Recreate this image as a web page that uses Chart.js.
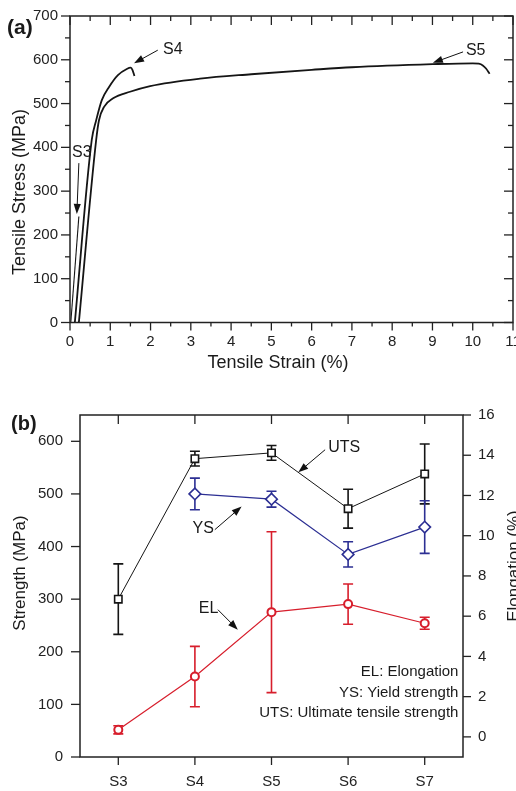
<!DOCTYPE html>
<html lang="en">
<head>
<meta charset="UTF-8" />
<title>Tensile properties</title>
<script src="https://cdn.jsdelivr.net/npm/chart.js"></script>
<style>
  body { margin: 0; background: #fff; }
  canvas { display: block; }
</style>
</head>
<body>
<canvas id="chartCurves" width="516" height="385"></canvas>
<canvas id="chartProps" width="516" height="406"></canvas>
<script>
// ---- (a) stress-strain curves, strain in %, stress in MPa ----
const strainTicks = [0, 1, 2, 3, 4, 5, 6, 7, 8, 9, 10, 11];
const strainMinor = [0.5, 1.5, 2.5, 3.5, 4.5, 5.5, 6.5, 7.5, 8.5, 9.5, 10.5];
const stressTicks = [0, 100, 200, 300, 400, 500, 600, 700];
const stressMinor = [50, 150, 250, 350, 450, 550, 650];

const s3Strain = [0.02, 0.22];
const s3Stress = [0, 242];
const s4Strain = [0.12, 0.54, 0.65, 0.79, 0.97, 1.19, 1.41, 1.51, 1.55, 1.60];
const s4Stress = [0, 417, 462, 508, 538, 565, 579, 582, 577, 563];
const s5Strain = [0.22, 0.65, 0.72, 0.85, 1.07, 1.49, 1.99, 3.23, 4.50, 6.00, 7.00, 9.00, 10.00, 10.15, 10.25, 10.33, 10.42];
const s5Stress = [0, 417, 462, 493, 512, 527, 540, 557, 567, 577, 583, 590, 592, 591, 587, 580, 568];

// ---- (b) properties per sample ----
const samples = ['S3', 'S4', 'S5', 'S6', 'S7'];
const utsMean = [300, 567, 578, 472, 538];
const utsErr  = [67, 14, 14, 37, 57];
const ysMean  = [null, 500, 490, 385, 437];
const ysErr   = [null, 30, 15, 24, 50];
const elMean  = [0.35, 3.0, 6.2, 6.6, 5.65];
const elErr   = [0.2, 1.5, 4.0, 1.0, 0.3];
const strengthTicks = [0, 100, 200, 300, 400, 500, 600];
const elongTicks = [0, 2, 4, 6, 8, 10, 12, 14, 16];

const BLACK = '#151515';
const BLUE = '#2c2f93';
const RED = '#d71e2c';
const FONT = '"Liberation Sans", Arial, sans-serif';

Chart.defaults.font.family = FONT;
Chart.defaults.color = '#222';

const toPoints = (xs, ys) => xs.map((x, i) => ({ x: x, y: ys[i] }));
const noGrid = { display: false, drawTicks: false };

// frame, tick marks, error bars, labels and arrows
function makeDecor(cfg) {
  return {
    id: 'decor',
    beforeDatasetsDraw(chart) {
      const ctx = chart.ctx;
      chart.data.datasets.forEach(ds => {
        if (!ds.errors) return;
        const xs = chart.scales.x;
        const ys = chart.scales[ds.yAxisID || 'y'];
        ctx.save();
        ctx.strokeStyle = ds.borderColor;
        ctx.lineWidth = 1.6;
        ds.data.forEach((v, j) => {
          if (v == null || ds.errors[j] == null) return;
          const px = xs.getPixelForValue(j);
          const top = ys.getPixelForValue(v + ds.errors[j]);
          const bot = ys.getPixelForValue(v - ds.errors[j]);
          ctx.beginPath();
          ctx.moveTo(px, top); ctx.lineTo(px, bot);
          ctx.moveTo(px - 5, top); ctx.lineTo(px + 5, top);
          ctx.moveTo(px - 5, bot); ctx.lineTo(px + 5, bot);
          ctx.stroke();
        });
        ctx.restore();
      });
    },
    afterDraw(chart) {
      const ctx = chart.ctx;
      const a = chart.chartArea;
      ctx.save();
      ctx.strokeStyle = '#222';
      ctx.lineWidth = 1.5;
      ctx.strokeRect(a.left, a.top, a.right - a.left, a.bottom - a.top);

      // tick marks
      ctx.lineWidth = 1.3;
      cfg.ticks.forEach(t => {
        const s = chart.scales[t.scale];
        t.values.forEach(v => {
          const p = s.getPixelForValue(v);
          const d = t.inward ? -t.len : t.len;
          ctx.beginPath();
          if (t.edge === 'bottom') { ctx.moveTo(p, a.bottom); ctx.lineTo(p, a.bottom + d); }
          if (t.edge === 'top')    { ctx.moveTo(p, a.top);    ctx.lineTo(p, a.top - d); }
          if (t.edge === 'left')   { ctx.moveTo(a.left, p);   ctx.lineTo(a.left - d, p); }
          if (t.edge === 'right')  { ctx.moveTo(a.right, p);  ctx.lineTo(a.right + d, p); }
          ctx.stroke();
        });
      });

      const pos = (o, xk, yk) => o.px ? [o[xk], o[yk]] :
        [chart.scales[o.xs || 'x'].getPixelForValue(o[xk]), chart.scales[o.ys || 'y'].getPixelForValue(o[yk])];

      // arrows with filled heads
      ctx.strokeStyle = '#111';
      ctx.fillStyle = '#111';
      ctx.lineWidth = 1;
      cfg.arrows.forEach(ar => {
        const [x1, y1] = pos(ar, 'x1', 'y1');
        const [x2, y2] = pos(ar, 'x2', 'y2');
        const ang = Math.atan2(y2 - y1, x2 - x1);
        const hl = 10, hw = 3.6;
        ctx.beginPath();
        ctx.moveTo(x1, y1);
        ctx.lineTo(x2 - Math.cos(ang) * hl * 0.8, y2 - Math.sin(ang) * hl * 0.8);
        ctx.stroke();
        ctx.beginPath();
        ctx.moveTo(x2, y2);
        ctx.lineTo(x2 - Math.cos(ang) * hl - Math.sin(ang) * hw, y2 - Math.sin(ang) * hl + Math.cos(ang) * hw);
        ctx.lineTo(x2 - Math.cos(ang) * hl + Math.sin(ang) * hw, y2 - Math.sin(ang) * hl - Math.cos(ang) * hw);
        ctx.closePath();
        ctx.fill();
      });

      // text labels
      ctx.fillStyle = '#1a1a1a';
      cfg.texts.forEach(tx => {
        const [x, y] = pos(tx, 'x', 'y');
        ctx.save();
        ctx.font = tx.font;
        ctx.textAlign = tx.align || 'left';
        ctx.textBaseline = 'middle';
        ctx.translate(x, y);
        if (tx.rotate) ctx.rotate(-Math.PI / 2);
        ctx.fillText(tx.text, 0, 0);
        ctx.restore();
      });
      ctx.restore();
    }
  };
}

// ---------- (a) ----------
const curveLine = { pointRadius: 0, cubicInterpolationMode: 'monotone', borderColor: BLACK, fill: false };

new Chart(document.getElementById('chartCurves'), {
  type: 'line',
  data: {
    datasets: [
      Object.assign({ label: 'S3', data: toPoints(s3Strain, s3Stress), borderWidth: 1.1 }, curveLine),
      Object.assign({ label: 'S4', data: toPoints(s4Strain, s4Stress), borderWidth: 1.8 }, curveLine),
      Object.assign({ label: 'S5', data: toPoints(s5Strain, s5Stress), borderWidth: 1.8 }, curveLine)
    ]
  },
  options: {
    responsive: false,
    animation: false,
    events: [],
    layout: { padding: { top: 16, right: 3, left: 0, bottom: 0 } },
    plugins: { legend: { display: false }, tooltip: { enabled: false } },
    scales: {
      x: {
        type: 'linear', min: 0, max: 11,
        grid: noGrid, border: { display: false },
        ticks: { stepSize: 1, padding: 10, maxRotation: 0, autoSkip: false, font: { size: 15 } },
        afterFit(s) { s.height = 62.5; s.paddingLeft = 0; s.paddingRight = 0; }
      },
      y: {
        min: 0, max: 700,
        grid: noGrid, border: { display: false },
        ticks: { stepSize: 100, padding: 12, font: { size: 15 } },
        afterFit(s) { s.width = 70; s.paddingTop = 0; s.paddingBottom = 0; }
      }
    }
  },
  plugins: [makeDecor({
    ticks: [
      { scale: 'x', edge: 'bottom', values: strainTicks, len: 8 },
      { scale: 'x', edge: 'bottom', values: strainMinor, len: 4 },
      { scale: 'x', edge: 'top', values: strainTicks, len: 9, inward: true },
      { scale: 'x', edge: 'top', values: strainMinor, len: 5, inward: true },
      { scale: 'y', edge: 'left', values: stressTicks, len: 9 },
      { scale: 'y', edge: 'left', values: stressMinor, len: 5 },
      { scale: 'y', edge: 'right', values: stressTicks, len: 9, inward: true },
      { scale: 'y', edge: 'right', values: stressMinor, len: 5, inward: true }
    ],
    arrows: [
      { x1: 2.18, y1: 622, x2: 1.59, y2: 592 },
      { x1: 9.76, y1: 618, x2: 9.01, y2: 593 },
      { x1: 0.22, y1: 364, x2: 0.17, y2: 248 }
    ],
    texts: [
      { px: true, x: 7, y: 28, text: '(a)', font: 'bold 21px ' + FONT },
      { x: 2.31, y: 624, text: 'S4', font: '16px ' + FONT },
      { x: 9.83, y: 622, text: 'S5', font: '16px ' + FONT },
      { x: 0.05, y: 388, text: 'S3', font: '16px ' + FONT },
      { px: true, x: 20, y: 192, text: 'Tensile Stress (MPa)', font: '18px ' + FONT, align: 'center', rotate: true },
      { px: true, x: 278, y: 363, text: 'Tensile Strain (%)', font: '18px ' + FONT, align: 'center' }
    ]
  })]
});

// ---------- (b) ----------
new Chart(document.getElementById('chartProps'), {
  type: 'line',
  data: {
    labels: samples,
    datasets: [
      {
        label: 'UTS', data: utsMean, errors: utsErr, yAxisID: 'y',
        borderColor: BLACK, borderWidth: 1, pointStyle: 'rect', pointRadius: 5.2,
        pointBorderWidth: 1.6, pointBackgroundColor: '#fff', pointBorderColor: BLACK
      },
      {
        label: 'YS', data: ysMean, errors: ysErr, yAxisID: 'y',
        borderColor: BLUE, borderWidth: 1.2, pointStyle: 'rectRot', pointRadius: 5.8,
        pointBorderWidth: 1.6, pointBackgroundColor: '#fff', pointBorderColor: BLUE
      },
      {
        label: 'EL', data: elMean, errors: elErr, yAxisID: 'y2',
        borderColor: RED, borderWidth: 1.2, pointStyle: 'circle', pointRadius: 4,
        pointBorderWidth: 2, pointBackgroundColor: '#fff', pointBorderColor: RED
      }
    ]
  },
  options: {
    responsive: false,
    animation: false,
    events: [],
    layout: { padding: { top: 30, right: 0, left: 0, bottom: 0 } },
    plugins: { legend: { display: false }, tooltip: { enabled: false } },
    scales: {
      x: {
        offset: true,
        grid: noGrid, border: { display: false },
        ticks: { padding: 16, maxRotation: 0, font: { size: 15 } },
        afterFit(s) { s.height = 34; s.paddingLeft = 0; s.paddingRight = 0; }
      },
      y: {
        position: 'left', min: 0, max: 650,
        grid: noGrid, border: { display: false },
        ticks: { stepSize: 100, includeBounds: false, padding: 17, font: { size: 15 } },
        afterFit(s) { s.width = 80; s.paddingTop = 0; s.paddingBottom = 0; }
      },
      y2: {
        position: 'right', min: -1, max: 16,
        grid: noGrid, border: { display: false },
        ticks: { stepSize: 2, includeBounds: false, padding: 15, font: { size: 15 } },
        afterFit(s) { s.width = 53; s.paddingTop = 0; s.paddingBottom = 0; }
      }
    }
  },
  plugins: [makeDecor({
    ticks: [
      { scale: 'x', edge: 'bottom', values: [0, 1, 2, 3, 4], len: 8 },
      { scale: 'x', edge: 'top', values: [0, 1, 2, 3, 4], len: 9, inward: true },
      { scale: 'y', edge: 'left', values: strengthTicks, len: 9 },
      { scale: 'y2', edge: 'right', values: elongTicks, len: 8 }
    ],
    arrows: [
      { x1: 2.70, y1: 584, x2: 2.35, y2: 541 },
      { x1: 1.26, y1: 432, x2: 1.61, y2: 476 },
      { x1: 1.30, y1: 280, x2: 1.56, y2: 242 }
    ],
    texts: [
      { px: true, x: 11, y: 39, text: '(b)', font: 'bold 20px ' + FONT },
      { x: 2.74, y: 588, text: 'UTS', font: '16px ' + FONT },
      { x: 0.97, y: 435, text: 'YS', font: '16px ' + FONT },
      { x: 1.05, y: 282, text: 'EL', font: '16px ' + FONT },
      { x: 4.44, y: 162.5, text: 'EL: Elongation', font: '15px ' + FONT, align: 'right' },
      { x: 4.44, y: 122.6, text: 'YS: Yield strength', font: '15px ' + FONT, align: 'right' },
      { x: 4.44, y: 84.6, text: 'UTS: Ultimate tensile strength', font: '15px ' + FONT, align: 'right' },
      { px: true, x: 20, y: 188, text: 'Strength (MPa)', font: '17px ' + FONT, align: 'center', rotate: true },
      { px: true, x: 514, y: 181, text: 'Elongation (%)', font: '17px ' + FONT, align: 'center', rotate: true }
    ]
  })]
});
</script>
</body>
</html>
